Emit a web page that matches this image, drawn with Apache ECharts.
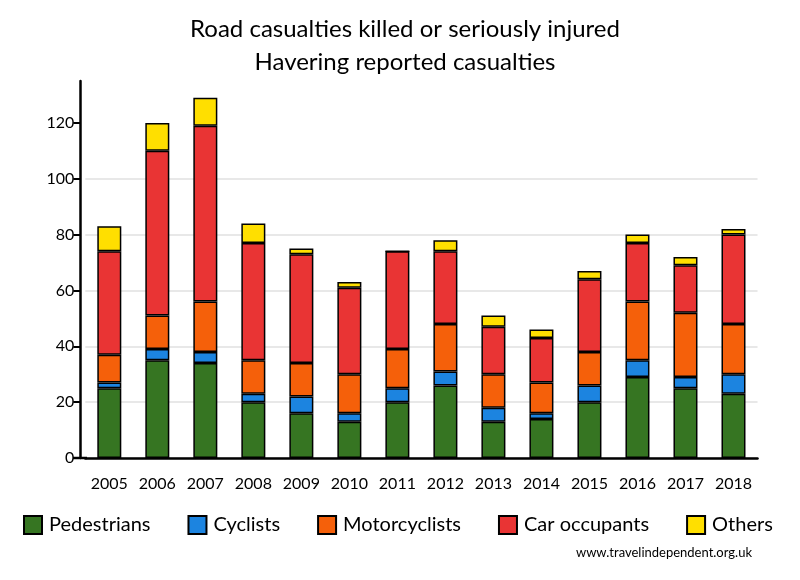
<!DOCTYPE html>
<html>
<head>
<meta charset="utf-8">
<script src="https://cdn.jsdelivr.net/npm/echarts@6/dist/echarts.min.js"></script>
<style>html,body{margin:0;padding:0;background:#fff}#c{width:800px;height:580px}</style>
</head>
<body>
<div id="c"></div>
<script>
const years = ['2005','2006','2007','2008','2009','2010','2011','2012','2013','2014','2015','2016','2017','2018'];
const pedestrians   = [25,35,34,20,16,13,20,26,13,14,20,29,25,23];
const cyclists      = [2,4,4,3,6,3,5,5,5,2,6,6,4,7];
const motorcyclists = [10,12,18,12,12,14,14,17,12,11,12,21,23,18];
const carOccupants  = [37,59,63,42,39,31,35,26,17,16,26,21,17,32];
const others        = [9,10,10,7,2,2,0,4,4,3,3,3,3,2];
const yTicks = [0,20,40,60,80,100,120];

const FONT = 'Lato';
const seriesDefs = [
  ['Pedestrians', pedestrians, '#367522'],
  ['Cyclists', cyclists, '#1c84e0'],
  ['Motorcyclists', motorcyclists, '#f5600a'],
  ['Car occupants', carOccupants, '#e93434'],
  ['Others', others, '#ffdf00']
];

const chart = echarts.init(document.getElementById('c'), null, {renderer:'canvas'});
chart.setOption({
  animation: false,
  backgroundColor: '#fff',
  title: {
    text: 'Road casualties killed or seriously injured\nHavering reported casualties',
    left: 400,
    top: 8,
    textAlign: 'center',
    textStyle: {fontFamily: FONT, fontSize: 24, fontWeight: 'normal', color: '#000', lineHeight: 33, align: 'center'}
  },
  legend: {
    top: 515,
    left: 23,
    padding: 0,
    itemWidth: 18,
    itemHeight: 18,
    itemGap: 37,
    icon: 'rect',
    textStyle: {fontFamily: FONT, fontSize: 20, color: '#000', padding: [0,0,0,2]},
    data: seriesDefs.map(d => d[0])
  },
  grid: {left: 85.3, right: 42.5, top: 81, bottom: 122, containLabel: false},
  xAxis: {
    type: 'category',
    data: years,
    axisLine: {lineStyle: {color: '#000', width: 2.5}},
    axisTick: {show: false},
    axisLabel: {fontFamily: FONT, fontSize: 16, color: '#000', margin: 18, interval: 0}
  },
  yAxis: {
    type: 'value',
    min: 0,
    max: 135,
    interval: 20,
    offset: 5,
    axisLine: {show: true, lineStyle: {color: '#000', width: 2.5}},
    axisTick: {show: true, length: 7, customValues: yTicks, lineStyle: {color: '#000', width: 2}},
    axisLabel: {fontFamily: FONT, fontSize: 16, color: '#000', margin: 6, customValues: yTicks},
    splitLine: {show: true, showMaxLine: false, lineStyle: {color: '#e8e8e8', width: 2}}
  },
  graphic: [{
    type: 'line',
    shape: {x1: 73, y1: 458, x2: 87, y2: 458},
    style: {stroke: '#000', lineWidth: 2.5},
    z: 100
  }, {
    type: 'text',
    right: 48,
    top: 546,
    style: {text: 'www.travelindependent.org.uk', font: '13px ' + FONT, fill: '#000'}
  }],
  series: seriesDefs.map(d => ({
    name: d[0],
    type: 'bar',
    stack: 'total',
    barWidth: 24,
    data: d[1],
    itemStyle: {color: d[2], borderColor: '#000', borderWidth: 1.5}
  }))
});
</script>
</body>
</html>
